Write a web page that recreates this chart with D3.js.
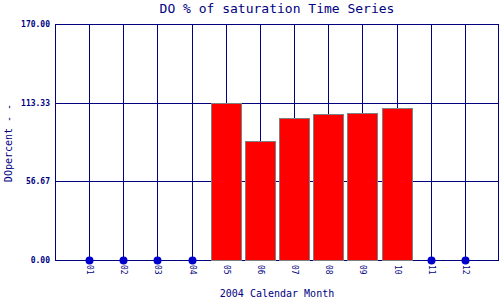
<!DOCTYPE html>
<html>
<head>
<meta charset="utf-8">
<script src="https://cdn.jsdelivr.net/npm/d3@7"></script>
<style>
  body { margin: 0; background: #fff; }
  text { font-family: "DejaVu Sans Mono", monospace; fill: #000080; }
  line { shape-rendering: crispEdges; }
</style>
</head>
<body>
<div id="chart"></div>
<script>
var months = ["01", "02", "03", "04", "05", "06", "07", "08", "09", "10", "11", "12"];
var doValues = [0, 0, 0, 0, 113, 85.5, 102, 105, 105.7, 109.3, 0, 0];
var hasBar = [false, false, false, false, true, true, true, true, true, true, false, false];
var yTicks = [0, 56.67, 113.33, 170];

var margin = {top: 24, right: 1, bottom: 40, left: 55};
var width = 500 - margin.left - margin.right;
var height = 300 - margin.top - margin.bottom;
var line = "#000080";

var svg = d3.select("#chart").append("svg")
    .attr("width", 500)
    .attr("height", 300)
    .append("g")
    .attr("transform", "translate(" + margin.left + "," + margin.top + ")");

var x = d3.scaleLinear()
    .domain([0, 13])
    .range([0, width])
    .interpolate(d3.interpolateRound);

var y = d3.scaleLinear()
    .domain([0, 170])
    .range([height, 0]);

var ry = d => Math.round(y(d)) + 0.5;

// horizontal grid
svg.selectAll(".hgrid")
    .data(yTicks)
    .enter().append("line")
    .attr("x1", 0).attr("x2", width)
    .attr("y1", ry).attr("y2", ry)
    .attr("stroke", line).attr("stroke-width", 1);

// vertical grid
svg.selectAll(".vgrid")
    .data(months)
    .enter().append("line")
    .attr("x1", (d, i) => x(i + 1) + 0.5).attr("x2", (d, i) => x(i + 1) + 0.5)
    .attr("y1", 0).attr("y2", height)
    .attr("stroke", line).attr("stroke-width", 1);

// frame sides
svg.append("line").attr("x1", 0.5).attr("x2", 0.5).attr("y1", 0).attr("y2", height + 1)
    .attr("stroke", line);
svg.append("line").attr("x1", width - 0.5).attr("x2", width - 0.5).attr("y1", 0).attr("y2", height + 1)
    .attr("stroke", line);

// y tick labels
svg.selectAll(".ylab")
    .data(yTicks)
    .enter().append("text")
    .attr("x", -5)
    .attr("y", d => y(d) + 3)
    .attr("text-anchor", "end")
    .style("font-size", "8px")
    .style("font-weight", "bold")
    .text(d => d.toFixed(2));

// x tick labels
svg.selectAll(".xlab")
    .data(months)
    .enter().append("text")
    .attr("transform", (d, i) => "translate(" + (x(i + 1) - 2.5) + "," + (height + 5) + ") rotate(90)")
    .style("font-size", "8px")
    .text(d => d);

var barW = 30;
svg.selectAll(".bar")
    .data(doValues.map((v, i) => ({v: v, i: i})).filter(d => hasBar[d.i]))
    .enter().append("rect")
    .attr("x", d => x(d.i + 1) - barW / 2 + 0.5)
    .attr("y", d => Math.round(y(d.v)) + 0.5)
    .attr("width", barW)
    .attr("height", d => height - Math.round(y(d.v)))
    .attr("fill", "#ff0000")
    .attr("stroke", "#808080")
    .attr("stroke-width", 1);

svg.selectAll(".dot")
    .data(doValues.map((v, i) => ({v: v, i: i})).filter(d => !hasBar[d.i]))
    .enter().append("circle")
    .attr("cx", d => x(d.i + 1) + 0.5)
    .attr("cy", d => ry(d.v))
    .attr("r", 4)
    .attr("fill", "#0000cc");

svg.append("text")
    .attr("x", width / 2)
    .attr("y", -11)
    .attr("text-anchor", "middle")
    .style("font-size", "13px")
    .text("DO % of saturation Time Series");

svg.append("text")
    .attr("x", width / 2)
    .attr("y", height + 37)
    .attr("text-anchor", "middle")
    .style("font-size", "10px")
    .text("2004 Calendar Month");

svg.append("text")
    .attr("transform", "translate(" + (12 - margin.left) + "," + (143 - margin.top) + ") rotate(-90)")
    .attr("text-anchor", "middle")
    .style("font-size", "10px")
    .text("DOpercent - -");
</script>
</body>
</html>
